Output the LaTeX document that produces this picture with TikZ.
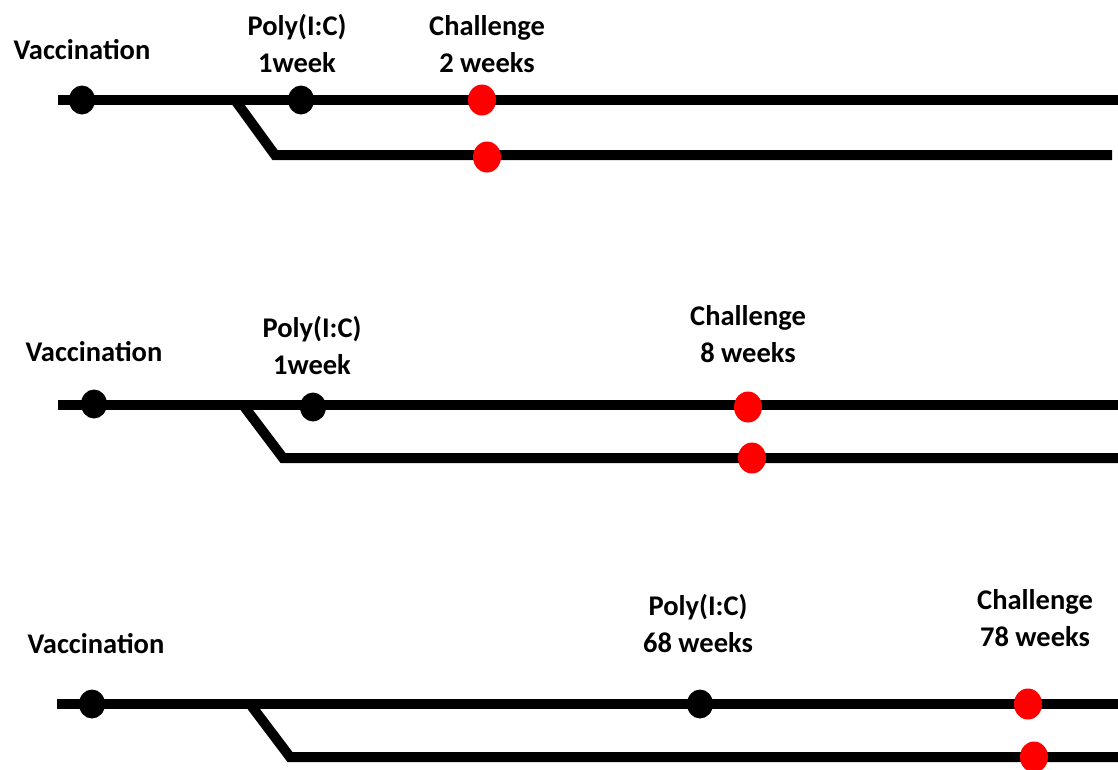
\documentclass[tikz,border=0pt]{standalone}
\usepackage{fontspec}
\setmainfont{Carlito}
\usetikzlibrary{shapes.geometric}
\begin{document}
\begin{tikzpicture}[x=1pt,y=-1pt,
  track/.style={line width=10pt, line cap=butt, line join=miter},
  bdot/.style={ellipse, fill=black, minimum width=26pt, minimum height=29pt, inner sep=0pt},
  rdot/.style={ellipse, fill=red, minimum width=28pt, minimum height=31pt, inner sep=0pt},
  lbl/.style={font=\bfseries\fontsize{28.5}{37}\selectfont, align=center, inner sep=0pt}]
\useasboundingbox (0,0) rectangle (1118,769);
% ---------- Panel 1
\coordinate (a1s) at (58,100); \coordinate (a1e) at (1118,100);
\coordinate (a1b) at (235,100); \coordinate (a1c) at (275,155); \coordinate (a1f) at (1112,155);
\draw[track] (a1s) -- (a1e);
\draw[track] (a1b) -- (a1c) -- (a1f);
\node[bdot] (v1) at (82,100) {};
\node[bdot] (p1) at (301,100) {};
\node[rdot] (c1a) at (482,100) {};
\node[rdot] (c1b) at (487,157) {};
\node[lbl] (lv1) at (82,50) {Vaccination};
\node[lbl] (lp1) at (297,44) {Poly(I:C)\\1week};
\node[lbl] (lc1) at (487,44) {Challenge\\2 weeks};
% ---------- Panel 2
\coordinate (a2s) at (58,405); \coordinate (a2e) at (1118,405);
\coordinate (a2b) at (243,405); \coordinate (a2c) at (283,458); \coordinate (a2f) at (1118,458);
\draw[track] (a2s) -- (a2e);
\draw[track] (a2b) -- (a2c) -- (a2f);
\node[bdot] (v2) at (94,404) {};
\node[bdot] (p2) at (313,407) {};
\node[rdot] (c2a) at (748,407) {};
\node[rdot] (c2b) at (752,458) {};
\node[lbl] (lv2) at (94,352) {Vaccination};
\node[lbl] (lp2) at (312,346) {Poly(I:C)\\1week};
\node[lbl] (lc2) at (748,334) {Challenge\\8 weeks};
% ---------- Panel 3
\coordinate (a3s) at (57,704); \coordinate (a3e) at (1118,704);
\coordinate (a3b) at (250,704); \coordinate (a3c) at (290,757); \coordinate (a3f) at (1118,757);
\draw[track] (a3s) -- (a3e);
\draw[track] (a3b) -- (a3c) -- (a3f);
\node[bdot] (v3) at (92,704) {};
\node[bdot] (p3) at (700,704) {};
\node[rdot] (c3a) at (1028,704) {};
\node[rdot] (c3b) at (1034,757) {};
\node[lbl] (lv3) at (96,644) {Vaccination};
\node[lbl] (lp3) at (698,624) {Poly(I:C)\\68 weeks};
\node[lbl] (lc3) at (1035,618) {Challenge\\78 weeks};
\end{tikzpicture}
\end{document}
